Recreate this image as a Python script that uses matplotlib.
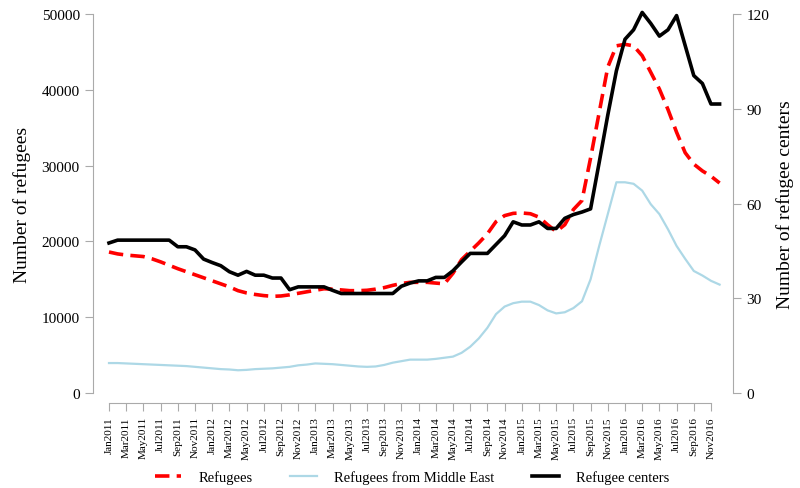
import numpy as np
import matplotlib
matplotlib.use("Agg")
import matplotlib.pyplot as plt

plt.rcParams['font.family'] = ['Liberation Serif', 'DejaVu Serif']

months = ['Jan', 'Feb', 'Mar', 'Apr', 'May', 'Jun', 'Jul', 'Aug', 'Sep', 'Oct', 'Nov', 'Dec']
years = [2011, 2012, 2013, 2014, 2015, 2016]
dates = [f"{m}{y}" for y in years for m in months]

# Refugees (left axis)
refugees = [18600, 18350, 18200, 18100, 18000, 17700, 17300, 16850, 16400, 16000, 15600, 15200,
            14800, 14400, 14000, 13500, 13200, 13000, 12850, 12750, 12800, 12950, 13150, 13350,
            13550, 13750, 13700, 13600, 13500, 13500, 13550, 13700, 13900, 14200, 14450, 14600,
            14600, 14600, 14500, 14400, 15800, 17600, 18700, 19800, 21000, 22600, 23400, 23700,
            23750, 23650, 23200, 22200, 21300, 22200, 24200, 25400, 31000, 37000, 43000, 45800,
            46000, 45800, 44500, 42300, 40100, 37400, 34400, 31700, 30200, 29300, 28600, 27700]

# Refugees from Middle East (left axis)
middle_east = [3950, 3950, 3900, 3850, 3800, 3750, 3700, 3650, 3600, 3550, 3450, 3350,
               3250, 3150, 3100, 3000, 3050, 3150, 3200, 3250, 3350, 3450, 3650, 3750,
               3900, 3850, 3800, 3700, 3600, 3500, 3450, 3500, 3700, 4000, 4200, 4400,
               4400, 4400, 4500, 4650, 4800, 5300, 6100, 7200, 8600, 10400, 11400, 11850,
               12050, 12050, 11600, 10900, 10500, 10650, 11200, 12100, 15000, 19400, 23600, 27800,
               27800, 27600, 26700, 24900, 23600, 21600, 19400, 17700, 16100, 15500, 14800, 14300]

# Refugee centers (right axis)
centers = [47.5, 48.4, 48.4, 48.4, 48.4, 48.4, 48.4, 48.4, 46.3, 46.3, 45.3, 42.4,
           41.3, 40.3, 38.4, 37.3, 38.5, 37.3, 37.3, 36.4, 36.4, 32.7, 33.6, 33.6,
           33.6, 33.6, 32.5, 31.5, 31.5, 31.5, 31.5, 31.5, 31.5, 31.5, 33.8, 34.8,
           35.5, 35.5, 36.6, 36.6, 38.7, 41.5, 44.2, 44.2, 44.2, 47.0, 49.8, 54.2,
           53.2, 53.2, 54.2, 52.1, 52.1, 55.3, 56.5, 57.3, 58.3, 73.0, 88.0, 102.0,
           112.0, 115.0, 120.5, 117.0, 113.0, 115.0, 119.5, 110.0, 100.5, 98.0, 91.5, 91.5]

x = np.arange(len(dates))
grey = '#aaaaaa'

fig = plt.figure(figsize=(8, 4.89), dpi=100)
ax = fig.add_axes([93 / 800, 1 - 404 / 489, 640 / 800, 399 / 489])
ax.set_xlim(-1.86, 72.56)
ax.set_ylim(-1320, 51320)

l1, = ax.plot(x, refugees, color='red', lw=2.6, ls=(0, (4, 2)), label='Refugees')
l2, = ax.plot(x, middle_east, color='#add8e6', lw=1.6, label='Refugees from Middle East')

ax2 = ax.twinx()
ax2.set_ylim(-1320 * 120 / 50000, 51320 * 120 / 50000)
l3, = ax2.plot(x, centers, color='black', lw=2.6, label='Refugee centers')

for a in (ax, ax2):
    a.spines['top'].set_visible(False)
    for s in a.spines.values():
        s.set_color(grey)
ax.spines['right'].set_visible(False)
ax2.spines['left'].set_visible(False)
ax2.spines['bottom'].set_visible(False)

ax.spines['left'].set_bounds(0, 50000)
ax.spines['bottom'].set_bounds(0, 70)
ax2.spines['right'].set_bounds(0, 120)

ax.set_yticks([0, 10000, 20000, 30000, 40000, 50000])
ax2.set_yticks([0, 30, 60, 90, 120])
ax.set_xticks(x[::2])
ax.set_xticklabels(dates[::2], rotation=90, fontsize=8)

ax.tick_params(axis='y', colors=grey, labelcolor='black', labelsize=11, length=6)
ax.tick_params(axis='x', colors=grey, labelcolor='black', length=6)
ax2.tick_params(axis='y', colors=grey, labelcolor='black', labelsize=11, length=6)

ax.set_ylabel('Number of refugees', fontsize=14, labelpad=8)
ax2.set_ylabel('Number of refugee centers', fontsize=14, labelpad=5)

fig.legend(handles=[l1, l2, l3], loc='lower center', ncol=3, frameon=False,
           bbox_to_anchor=(0.515, -0.018), fontsize=10.5, handlelength=1.8,
           handletextpad=1.2, columnspacing=2.6)

fig.savefig('out.png', dpi=100)
